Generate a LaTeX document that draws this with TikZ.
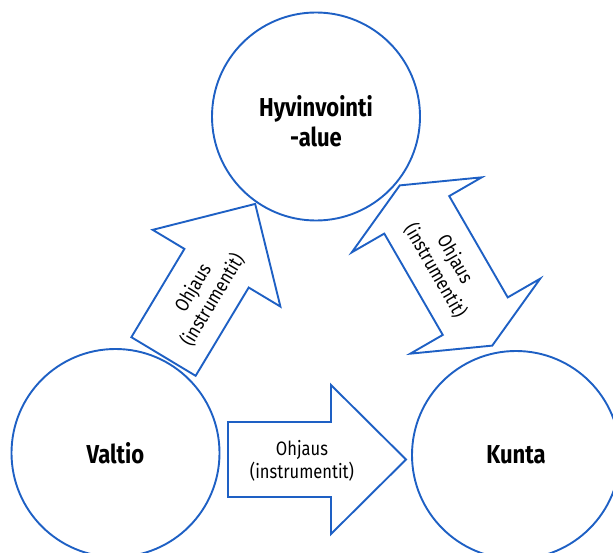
\documentclass[tikz,border=0pt]{standalone}
\usepackage{fontspec}
\setmainfont{Fira Sans}[FakeStretch=0.85]
\definecolor{lineblue}{RGB}{30,96,196}
\tikzset{
  hub/.style={circle, draw=lineblue, line width=1.9bp, minimum size=208bp,
    inner sep=0pt, align=center, font=\bfseries\fontsize{26}{30}\selectfont},
  blockarrow/.style={draw=lineblue, line width=1.9bp, line join=miter},
  arrowtext/.style={align=center, inner sep=0pt,
    font=\fontsize{19.5}{23}\selectfont},
  % one-headed block arrow, tail midpoint at the origin, pointing along +x
  singleblock/.pic={
    \draw[blockarrow] (0,-37.5) -- (103,-37.5) -- (103,-74.5) -- (178,0)
      -- (103,74.5) -- (103,37.5) -- (0,37.5) -- cycle;
  },
  % two-headed block arrow centred on the origin, along the x axis
  doubleblock/.pic={
    \draw[blockarrow] (-92.5,0) -- (-58.5,-75) -- (-58.5,-37.5) -- (58.5,-37.5)
      -- (58.5,-75) -- (92.5,0) -- (58.5,75) -- (58.5,37.5) -- (-58.5,37.5)
      -- (-58.5,75) -- cycle;
  }
}
\begin{document}
\begin{tikzpicture}[x=1bp, y=-1bp]
\useasboundingbox (0,0) rectangle (613,553);

% the three actors
\node[hub] (hyv)    at (316,116.5) {\rule{0pt}{30bp}Hyvinvointi\\-alue};
\node[hub] (valtio) at (115.5,453)  {Valtio};
\node[hub] (kunta)  at (516,455)    {Kunta};

% Valtio -> Hyvinvointialue
\pic[rotate=59] at (163.5,356.5) {singleblock};
\node[arrowtext, rotate=59] (steer1) at (203,294) {Ohjaus\\(instrumentit)};

% Valtio -> Kunta
\pic at (228,459.5) {singleblock};
\node[arrowtext] (steer2) at (302,461) {Ohjaus\\(instrumentit)};

% Hyvinvointialue <-> Kunta
\pic[rotate=-60] at (446,265.5) {doubleblock};
\node[arrowtext, rotate=-60] (steer3) at (445,265) {Ohjaus\\(instrumentit)};
\end{tikzpicture}
\end{document}
